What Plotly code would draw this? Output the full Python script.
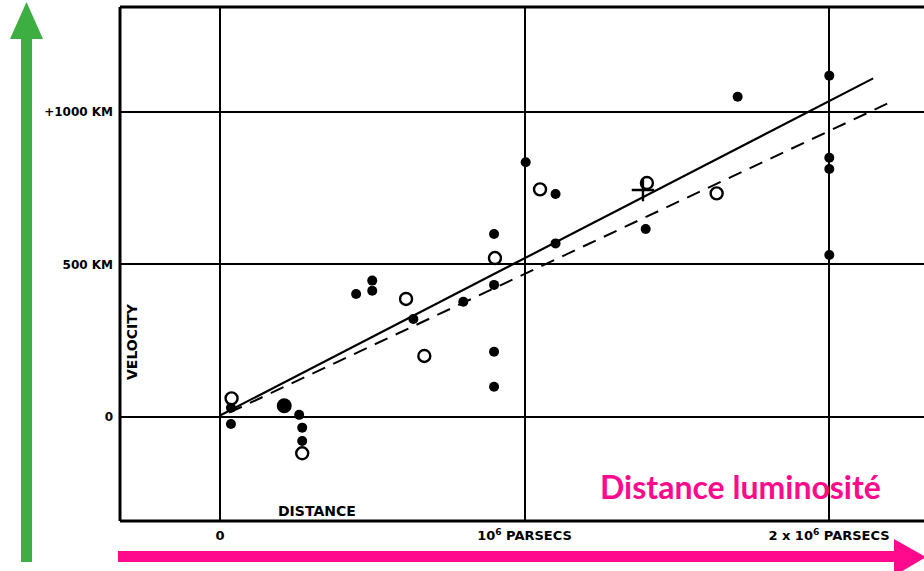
import plotly.graph_objects as go

# Distances in units of 10^6 parsecs, velocities in km/s
filled_x = [0.036, 0.036, 0.26, 0.27, 0.27, 0.447, 0.50, 0.50, 0.635, 0.799,
            0.90, 0.90, 0.90, 0.90, 1.004, 1.102, 1.102, 1.398, 1.70,
            2.001, 2.001, 2.001, 2.001]
filled_y = [30, -23, 7, -35, -79, 403, 447, 414, 321, 378,
            600, 433, 214, 99, 835, 731, 569, 616, 1050,
            1119, 850, 813, 531]

big_x = [0.211]
big_y = [37]

open_x = [0.038, 0.27, 0.611, 0.671, 0.903, 1.051, 1.402, 1.631]
open_y = [61, -119, 387, 200, 521, 746, 767, 733]

cross_x = [1.389]
cross_y = [744]

# Fitted relations: individual nebulae (solid) and grouped (dashed)
solid_x = [0.0, 2.145]
solid_y = [5, 1110]
dashed_x = [0.03, 2.204]
dashed_y = [14, 1033]

x_ticks = [0, 1, 2]
x_tick_text = ["<b>0</b>", "<b>10<sup>6</sup> PARSECS</b>", "<b>2 x 10<sup>6</sup> PARSECS</b>"]
y_ticks = [0, 500, 1000]
y_tick_text = ["<b>0</b>", "<b>500 KM</b>", "<b>+1000 KM</b>"]

W, H = 924, 571
L, R, T, B = 120, 0, 7, 50
pw, ph = W - L - R, H - T - B


def px(x):
    return (x - L) / pw


def py(y):
    return (H - B - y) / ph


fig = go.Figure()

fig.add_trace(go.Scatter(x=solid_x, y=solid_y, mode="lines",
                         line=dict(color="black", width=2.2)))
fig.add_trace(go.Scatter(x=dashed_x, y=dashed_y, mode="lines",
                         line=dict(color="black", width=2, dash="14px,9px")))
fig.add_trace(go.Scatter(x=filled_x, y=filled_y, mode="markers",
                         marker=dict(color="black", size=10, line=dict(width=0))))
fig.add_trace(go.Scatter(x=big_x, y=big_y, mode="markers",
                         marker=dict(color="black", size=15, line=dict(width=0))))
fig.add_trace(go.Scatter(x=open_x, y=open_y, mode="markers",
                         marker=dict(symbol="circle-open", color="black", size=12,
                                     line=dict(width=2.4, color="black"))))
fig.add_trace(go.Scatter(x=cross_x, y=cross_y, mode="markers",
                         marker=dict(symbol="cross-thin", size=16,
                                     line=dict(width=2.4, color="black"))))

fig.update_xaxes(range=[-0.3284, 2.312], tickvals=x_ticks, ticktext=x_tick_text,
                 showgrid=True, gridcolor="black", gridwidth=2,
                 zeroline=False, showline=False, ticks="",
                 tickfont=dict(family="DejaVu Sans", size=13, color="black"),
                 ticklabelstandoff=5, fixedrange=True)
fig.update_yaxes(range=[-341, 1344], tickvals=y_ticks, ticktext=y_tick_text,
                 showgrid=True, gridcolor="black", gridwidth=2,
                 zeroline=False, showline=False, ticks="",
                 tickfont=dict(family="DejaVu Sans", size=12, color="black"),
                 ticklabelstandoff=6, fixedrange=True)

shapes = [
    # frame: left, top, bottom
    dict(type="line", xref="paper", yref="paper", x0=0, x1=0, y0=0, y1=1,
         line=dict(color="black", width=3)),
    dict(type="line", xref="paper", yref="paper", x0=0, x1=1.01, y0=1, y1=1,
         line=dict(color="black", width=3)),
    dict(type="line", xref="paper", yref="paper", x0=0, x1=1.01, y0=0, y1=0,
         line=dict(color="black", width=3)),
]

# green vertical arrow
green = "#3dae41"
gpath = (f"M {px(21)} {py(562)} L {px(32)} {py(562)} L {px(32)} {py(39)} "
         f"L {px(43)} {py(39)} L {px(26.5)} {py(2)} L {px(10)} {py(39)} "
         f"L {px(21)} {py(39)} Z")
shapes.append(dict(type="path", xref="paper", yref="paper", path=gpath,
                   fillcolor=green, line=dict(width=0), layer="above"))

# pink horizontal arrow
pink = "#ff0a8c"
ppath = (f"M {px(118)} {py(551)} L {px(894)} {py(551)} L {px(894)} {py(539)} "
         f"L {px(926)} {py(557)} L {px(894)} {py(576)} L {px(894)} {py(562)} "
         f"L {px(118)} {py(562)} Z")
shapes.append(dict(type="path", xref="paper", yref="paper", path=ppath,
                   fillcolor=pink, line=dict(width=0), layer="above"))

annotations = [
    dict(text="<b>VELOCITY</b>", xref="paper", yref="paper",
         x=px(132), y=py(342), textangle=-90, showarrow=False,
         font=dict(family="DejaVu Sans", size=14, color="black"),
         xanchor="center", yanchor="middle"),
    dict(text="<b>DISTANCE</b>", xref="paper", yref="paper",
         x=px(317), y=py(511), showarrow=False,
         font=dict(family="DejaVu Sans", size=14, color="black"),
         xanchor="center", yanchor="middle"),
    dict(text="<b>Distance luminosité</b>", xref="paper", yref="paper",
         x=px(598), y=py(486), showarrow=False,
         font=dict(family="Lato", size=32, color=pink),
         xanchor="left", yanchor="middle"),
]

fig.update_layout(
    width=W, height=H,
    margin=dict(l=L, r=R, t=T, b=B),
    paper_bgcolor="white", plot_bgcolor="white",
    showlegend=False,
    shapes=shapes, annotations=annotations,
)

fig.write_html("out.html")
